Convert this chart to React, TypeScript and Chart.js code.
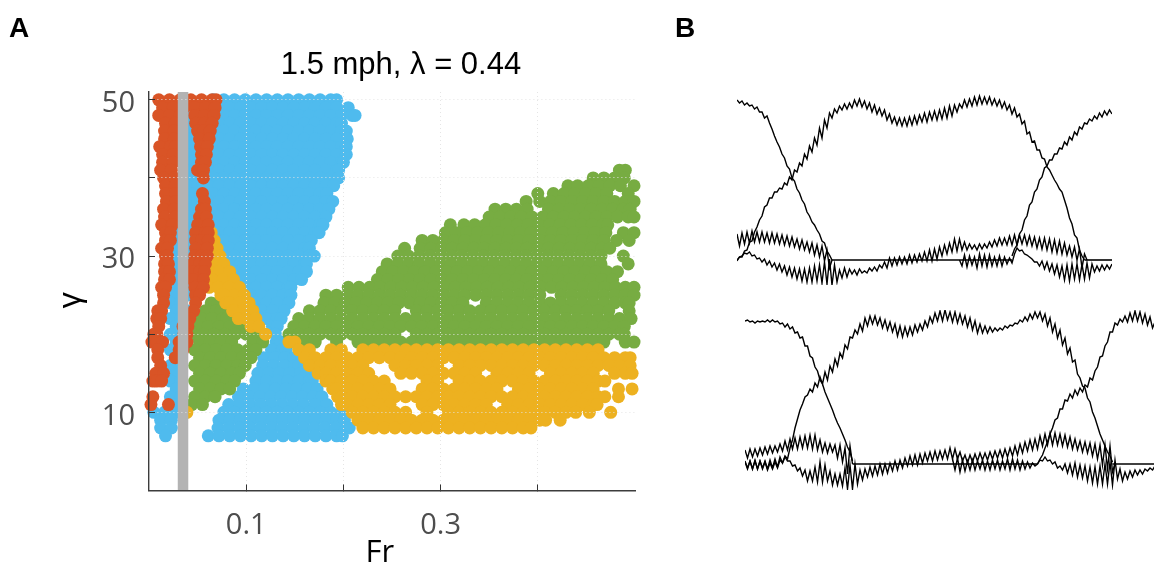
import React, { useEffect, useRef } from "react";
import { Chart, registerables } from "chart.js";

Chart.register(...registerables);

type Row = [number, number[]];

const panelLetters = ["A", "B"];
const chartTitle = "1.5 mph, λ = 0.44";
const xAxisTitle = "Fr";
const yAxisTitle = "γ";
const xTickLabels = ["0.1", "0.3"];
const yTickLabels = ["10", "30", "50"];
const stanceBarFr = [0.035, 0.035];
const stanceBarGamma = [0, 51];

// each row: gamma, then Fr x 1000 of every simulated point on that row
const orangeRows: Row[] = [
  [50, [10, 21, 32, 43, 54, 65, 69]],
  [49, [14, 25, 36, 47, 58, 68]],
  [48, [10, 21, 32, 47, 57, 67]],
  [47, [17, 27, 48, 57, 65]],
  [46, [16, 26, 50, 56, 63]],
  [45, [16, 26, 52, 62]],
  [44, [11, 22, 27, 53, 60]],
  [43, [14, 25, 54, 59]],
  [42, [14, 25, 54, 58]],
  [41, [12, 23, 50, 56]],
  [40, [15, 26, 56]],
  [39, [17, 27]],
  [38, [17, 27, 55]],
  [37, [18, 28, 57]],
  [36, [15, 26, 54, 58]],
  [35, [16, 27, 52, 59]],
  [34, [13, 24, 50, 61]],
  [33, [17, 22, 48, 58, 61]],
  [32, [17, 22, 48, 54, 61]],
  [31, [13, 19, 48, 60]],
  [30, [17, 19, 47, 54, 60]],
  [29, [16, 20, 45, 52, 58]],
  [28, [16, 21, 45, 52, 57]],
  [27, [16, 21, 45, 56]],
  [26, [13, 17, 47, 56]],
  [25, [15, 48, 52]],
  [24, [15, 48]],
  [23, [9, 13, 46]],
  [22, [8, 12, 42]],
  [21, [10, 35, 40]],
  [20, [5, 8, 36, 39]],
  [19, [3, 8, 14, 31, 39]],
  [18, [9, 31, 35]],
  [17, [9, 27]],
  [16, [12]],
  [15, [7, 15]],
  [14, [4, 8, 13]],
  [12, [4]],
  [11, [2, 20]],
];

const blueRows: Row[] = [
  [50, [66, 77, 88, 99, 110, 121, 132, 143, 154, 165, 176, 187, 193]],
  [49, [61, 72, 83, 94, 105, 116, 127, 138, 149, 160, 171, 182, 193, 205]],
  [48, [44, 55, 66, 77, 88, 99, 110, 121, 132, 143, 154, 165, 176, 187, 198, 209, 212]],
  [47, [39, 50, 61, 72, 83, 94, 105, 116, 127, 138, 149, 160, 171, 182, 193, 198]],
  [46, [44, 55, 66, 77, 88, 99, 110, 121, 132, 143, 154, 165, 176, 187, 198, 203]],
  [45, [39, 50, 61, 72, 83, 94, 105, 116, 127, 138, 149, 160, 171, 182, 193, 204]],
  [44, [44, 55, 66, 77, 88, 99, 110, 121, 132, 143, 154, 165, 176, 187, 198, 203]],
  [43, [39, 50, 61, 72, 83, 94, 105, 116, 127, 138, 149, 160, 171, 182, 193, 203]],
  [42, [44, 55, 66, 77, 88, 99, 110, 121, 132, 143, 154, 165, 176, 187, 198, 200]],
  [41, [39, 50, 61, 72, 83, 94, 105, 116, 127, 138, 149, 160, 171, 182, 193, 195]],
  [40, [33, 44, 55, 66, 77, 88, 99, 110, 121, 132, 143, 154, 165, 176, 187, 195]],
  [39, [28, 39, 50, 61, 72, 83, 94, 105, 116, 127, 138, 149, 160, 171, 182, 190]],
  [38, [33, 44, 55, 66, 77, 88, 99, 110, 121, 132, 143, 154, 165, 176, 183]],
  [37, [28, 39, 50, 61, 72, 83, 94, 105, 116, 127, 138, 149, 160, 171, 182, 189]],
  [36, [33, 44, 55, 66, 77, 88, 99, 110, 121, 132, 143, 154, 165, 176, 185]],
  [35, [28, 39, 50, 61, 72, 83, 94, 105, 116, 127, 138, 149, 160, 171, 182]],
  [34, [33, 44, 55, 66, 77, 88, 99, 110, 121, 132, 143, 154, 165, 176, 179]],
  [33, [28, 39, 50, 61, 72, 83, 94, 105, 116, 127, 138, 149, 160, 171, 175]],
  [32, [33, 44, 55, 66, 77, 88, 99, 110, 121, 132, 143, 154, 165, 167]],
  [31, [28, 39, 50, 61, 72, 83, 94, 105, 116, 127, 138, 149, 160, 165]],
  [30, [22, 33, 44, 55, 66, 77, 88, 99, 110, 121, 132, 143, 154, 165, 170]],
  [29, [28, 39, 50, 72, 83, 94, 105, 116, 127, 138, 149, 160, 162]],
  [28, [22, 33, 44, 88, 99, 110, 121, 132, 143, 154, 162]],
  [27, [28, 39, 50, 94, 105, 116, 127, 138, 149, 157]],
  [26, [22, 33, 44, 99, 110, 121, 132, 143, 146]],
  [25, [28, 39, 105, 116, 127, 138, 146]],
  [24, [22, 33, 110, 121, 132, 144]],
  [23, [28, 39, 116, 127, 139]],
  [22, [22, 33, 121, 132, 136]],
  [21, [28, 39, 127, 132]],
  [20, [22, 33, 130]],
  [19, [28, 39, 131, 136]],
  [18, [22, 33, 126, 137, 141]],
  [17, [28, 118, 129, 140, 149]],
  [16, [22, 33, 117, 128, 139, 150, 154]],
  [15, [28, 112, 123, 134, 145, 156, 162]],
  [14, [22, 33, 110, 121, 132, 143, 154, 165, 168]],
  [13, [28, 97, 108, 119, 130, 141, 152, 163, 173]],
  [12, [22, 33, 92, 103, 114, 125, 136, 147, 158, 169, 178]],
  [11, [28, 82, 93, 104, 115, 126, 137, 148, 159, 171, 183]],
  [10, [5, 16, 27, 38, 77, 88, 99, 110, 121, 132, 143, 154, 165, 176, 187, 198]],
  [9, [12, 23, 72, 83, 94, 105, 116, 127, 138, 149, 160, 171, 182, 193, 201]],
  [8, [12, 23, 71, 82, 93, 104, 115, 126, 137, 148, 159, 170, 181, 192, 203, 206]],
  [7, [17, 61, 72, 83, 94, 105, 116, 127, 138, 149, 160, 171, 182, 193, 199]],
];

const greenRows: Row[] = [
  [41, [484, 490]],
  [40, [457, 468, 479, 489]],
  [39, [431, 441, 452, 463, 474, 485, 499]],
  [38, [400, 416, 427, 438, 449, 460, 471, 493]],
  [37, [388, 402, 413, 424, 435, 446, 457, 468, 479, 490, 499]],
  [36, [356, 367, 378, 389, 411, 422, 433, 444, 455, 466, 477, 488, 495]],
  [35, [350, 361, 372, 383, 394, 405, 416, 427, 438, 449, 460, 471, 482, 493, 499]],
  [34, [310, 324, 335, 346, 357, 368, 379, 390, 401, 412, 423, 434, 445, 456, 467, 472]],
  [33, [305, 316, 327, 338, 349, 360, 371, 382, 393, 404, 415, 426, 437, 448, 459, 470, 488, 499]],
  [32, [281, 292, 303, 314, 325, 336, 347, 358, 369, 380, 391, 402, 413, 424, 435, 446, 457, 468, 481, 494]],
  [31, [263, 279, 290, 301, 312, 323, 334, 345, 356, 367, 378, 389, 400, 411, 422, 433, 444, 455, 466, 474]],
  [30, [256, 267, 278, 289, 300, 311, 322, 333, 344, 355, 366, 377, 388, 399, 410, 421, 432, 443, 454, 465, 488]],
  [29, [245, 256, 267, 278, 289, 300, 311, 322, 333, 344, 355, 366, 377, 388, 399, 410, 421, 432, 443, 454, 465, 493]],
  [28, [240, 251, 262, 273, 284, 295, 306, 317, 328, 339, 350, 361, 372, 383, 394, 405, 416, 427, 438, 449, 460, 471, 482]],
  [27, [235, 246, 257, 268, 279, 290, 301, 312, 323, 334, 345, 356, 367, 378, 389, 400, 411, 422, 433, 444, 455, 466, 477]],
  [26, [205, 216, 227, 238, 249, 260, 271, 282, 293, 304, 315, 326, 337, 348, 359, 370, 381, 392, 403, 414, 425, 436, 447, 458, 469, 480, 490, 499]],
  [25, [182, 193, 204, 215, 226, 237, 248, 259, 270, 281, 292, 303, 314, 325, 336, 347, 358, 369, 380, 391, 402, 424, 435, 446, 457, 468, 479, 490, 499]],
  [24, [180, 191, 202, 213, 224, 235, 246, 257, 268, 279, 290, 301, 312, 323, 347, 358, 369, 380, 391, 402, 413, 424, 435, 446, 457, 468, 479, 490, 494]],
  [23, [165, 176, 187, 198, 209, 220, 231, 242, 253, 275, 286, 297, 308, 319, 330, 341, 352, 363, 374, 385, 396, 407, 418, 429, 440, 451, 462, 473, 494]],
  [22, [154, 165, 176, 187, 198, 209, 220, 231, 242, 253, 264, 275, 286, 297, 308, 319, 330, 341, 352, 363, 374, 385, 396, 407, 418, 429, 440, 451, 462, 473, 484, 496]],
  [21, [149, 160, 171, 182, 193, 204, 215, 226, 237, 248, 259, 270, 281, 292, 303, 314, 325, 336, 347, 358, 369, 380, 391, 402, 413, 424, 435, 446, 457, 468, 479, 489]],
  [20, [144, 154, 165, 176, 187, 198, 209, 220, 231, 242, 253, 275, 286, 297, 308, 319, 330, 341, 352, 363, 374, 385, 396, 407, 418, 429, 440, 451, 462, 473, 484, 489]],
  [19, [149, 160, 171, 193, 215, 226, 237, 248, 259, 270, 281, 292, 303, 314, 325, 336, 347, 358, 369, 380, 391, 402, 413, 424, 435, 446, 457, 468, 490, 499]],
  [24, [64, 71]],
  [23, [58, 69, 74]],
  [22, [54, 65, 76, 80]],
  [21, [50, 61, 72, 83, 93]],
  [20, [45, 56, 67, 78, 89, 100, 111, 115]],
  [19, [52, 63, 74, 85, 107, 117]],
  [18, [47, 58, 69, 80, 91, 102, 110]],
  [17, [52, 63, 74, 85, 96, 105]],
  [16, [47, 58, 69, 80, 91, 99]],
  [15, [52, 63, 74, 85, 93]],
  [14, [47, 58, 69, 80, 88]],
  [13, [52, 63, 74, 83]],
  [12, [47, 58, 68]],
  [11, [44, 55]],
];

const yellowRows: Row[] = [
  [33, [64]],
  [32, [60, 67]],
  [31, [60, 70]],
  [30, [62, 73]],
  [29, [66, 77]],
  [28, [62, 72, 83]],
  [27, [65, 76, 87]],
  [26, [62, 71, 82, 93]],
  [25, [74, 78, 88, 98]],
  [24, [79, 83, 93, 103]],
  [23, [86, 88, 97, 107]],
  [22, [92, 100, 110]],
  [21, [105, 113]],
  [20, [120]],
  [19, [144, 150]],
  [18, [154, 165, 187, 198, 220, 231, 242, 253, 264, 275, 286, 297, 308, 319, 330, 341, 352, 363, 374, 385, 396, 407, 418, 429, 440, 451, 462]],
  [17, [160, 171, 182, 193, 204, 215, 226, 237, 248, 259, 270, 281, 292, 303, 314, 325, 336, 347, 358, 369, 380, 391, 402, 413, 424, 435, 446, 457, 468, 479, 490, 495]],
  [16, [165, 176, 187, 198, 209, 220, 253, 264, 275, 286, 297, 319, 330, 341, 352, 363, 374, 385, 396, 407, 418, 429, 440, 451, 462, 473, 484, 495]],
  [15, [174, 182, 193, 204, 215, 226, 259, 270, 281, 292, 303, 314, 325, 336, 358, 369, 380, 391, 413, 424, 435, 446, 457, 479, 490, 497]],
  [14, [182, 187, 198, 209, 220, 231, 242, 286, 297, 319, 330, 341, 352, 363, 374, 385, 396, 407, 418, 429, 440, 451, 462, 469]],
  [13, [189, 193, 204, 215, 226, 237, 248, 281, 292, 303, 314, 325, 336, 347, 358, 380, 391, 402, 413, 424, 435, 446, 457, 483, 497]],
  [12, [194, 198, 209, 220, 231, 242, 253, 264, 275, 286, 297, 308, 319, 330, 341, 352, 363, 374, 385, 396, 407, 418, 429, 440, 451, 462, 469, 483]],
  [11, [198, 204, 215, 226, 237, 248, 281, 292, 303, 314, 325, 336, 347, 369, 380, 391, 402, 413, 424, 435, 446, 457, 461]],
  [10, [39, 209, 220, 231, 242, 253, 264, 286, 308, 319, 330, 341, 352, 363, 374, 385, 396, 407, 418, 429, 439, 453, 475]],
  [9, [215, 226, 237, 248, 259, 270, 281, 292, 303, 314, 325, 336, 347, 358, 369, 380, 391, 402, 408, 423]],
  [8, [220, 231, 242, 253, 264, 275, 286, 297, 308, 319, 330, 341, 352, 363, 374, 385, 393]],
];

// Panel B, upper trial: force traces sampled along the stride
const upperFall = [160, 157, 159, 155, 157, 154, 155, 151, 153, 148, 148, 142, 144, 137, 131, 124, 118, 113, 106, 102, 94, 91, 82, 79, 71, 67, 60, 56, 48, 44, 38, 35, 30, 26, 19, 17, 9, 5, 0];
const upperRise = [4, 11, 15, 26, 30, 40, 44, 55, 58, 68, 71, 80, 83, 92, 94, 100, 100, 106, 106, 112, 111, 118, 115, 123, 120, 128, 125, 133, 131, 137, 136, 141, 139, 144, 141, 147, 143, 149, 145, 150, 146];
const upperRiseStart = 110;
const upperArch = [-1, 3, 3, 9, 10, 18, 19, 28, 33, 40, 44, 53, 55, 62, 62, 68, 68, 72, 71, 77, 75, 83, 80, 90, 88, 97, 94, 106, 101, 114, 108, 122, 115, 132, 122, 140, 132, 147, 142, 151, 147, 154, 150, 156, 151, 157, 152, 160, 154, 161, 153, 159, 151, 157, 148, 155, 146, 152, 144, 150, 140, 146, 137, 143, 135, 142, 134, 142, 134, 143, 135, 144, 136, 145, 138, 147, 138, 148, 140, 149, 140, 150, 141, 152, 142, 154, 144, 155, 148, 156, 152, 160, 153, 161, 154, 163, 155, 164, 156, 163, 156, 163, 155, 161, 154, 160, 152, 158, 150, 155, 146, 152, 143, 146, 136, 139, 126, 128, 118, 119, 110, 110, 102, 101, 93, 90, 85, 80, 76, 71, 68, 60, 52, 42, 36, 25, 22, 10, 4, 0];
const upperBand = [26, 14, 27, 16, 28, 17, 29, 18, 28, 18, 28, 18, 27, 17, 27, 17, 26, 16, 25, 15, 24, 14, 23, 13, 21, 11, 20, 10, 18, 8, 17, 5, 15, 3, 14, -1, 10, -8, 0];
const upperNoise = [0, -6, 5, -7, 4, -5, 3, -8, 6, -6, 5, -7, 5, -6, 3, -6, 4, -6, 3, -4, 2, -3, 6, 12, 9, 10, 6, 5, 3, 1, -2, -2, -6, -1, -9, -2, -11, -4, -14, -5, -17, -6, -20, -5, -21, -4, -19, -4, -20, -4, -19, -3, -18, -4, -12, -6, -11, -5, -10, -5, -9, -4];
const upperNoiseStart = 89;
const upperLow = [0, 3, 4, 7, 6, 8, 4, 5, 1, 2, -2, 1, -5, -1, -7, -3, -10, -4, -12, -6, -15, -7, -17, -8, -19, -9, -21, -9, -22, -8, -22, -6, -21, -5, -23, -2, -24, 1, -25, -5, -22, -10, -18, -8, -17, -9, -14, -10, -15, -9, -13, -11, -13, -8, -11, -7, -11, -5, -8, -2, -8, 2, -6, 2, -5, 3, -4, 3, -4, 5, -3, 5, -2, 6, -1, 8, -1, 10, -1, 11, 1, 13, 4, 15, 6, 17, 8, 21, 9, 21, 10, 18, 10, 16, 11, 15, 10, 16, 11, 16, 12, 18, 13, 20, 14, 22, 15, 22, 15, 24, 15, 25, 15, 25, 16, 25, 15, 24, 14, 23, 12, 22, 11, 22, 10, 21, 8, 20, 7, 19, 6, 17, 5, 14, 3, 13, 0, 11, -8, 6, 0];
const upperFlat = [[38, 110], [139, 150]];

// Panel B, lower trial
const lowerFall = [143, 144, 142, 143, 141, 143, 142, 143, 142, 144, 142, 144, 142, 143, 140, 141, 137, 140, 135, 137, 131, 132, 126, 127, 118, 118, 108, 106, 97, 93, 84, 80, 72, 66, 60, 54, 47, 41, 36, 30, 24, 17, 12, 3];
const lowerRise = [0, 5, 9, 16, 22, 30, 36, 44, 46, 55, 55, 64, 63, 70, 66, 74, 69, 76, 72, 79, 77, 86, 84, 93, 97, 107, 108, 118, 122, 132, 132, 141, 139, 145, 142, 148, 142, 151, 143, 153, 143, 152, 141, 150, 139, 147, 136, 142];
const lowerRiseStart = 117;
const lowerArch = [2, -5, 3, -5, 3, -5, 3, -4, 3, -5, 4, -4, 5, -3, 7, 1, 8, 5, 16, 24, 36, 45, 54, 60, 67, 69, 75, 72, 81, 77, 87, 80, 92, 84, 98, 92, 105, 98, 111, 106, 119, 115, 127, 126, 134, 130, 140, 133, 146, 138, 148, 140, 148, 139, 146, 136, 144, 134, 142, 132, 140, 128, 138, 127, 137, 128, 137, 129, 139, 132, 140, 134, 143, 137, 147, 141, 151, 143, 153, 143, 154, 144, 152, 142, 152, 141, 150, 140, 148, 137, 146, 134, 143, 131, 140, 131, 138, 131, 137, 132, 136, 133, 136, 134, 138, 136, 139, 138, 141, 140, 144, 142, 147, 143, 150, 145, 152, 146, 152, 143, 150, 138, 146, 132, 140, 126, 134, 119, 126, 110, 116, 102, 104, 90, 86, 78, 76, 66, 62, 52, 46, 38, 30, 24, 18, 12, 8, 2];
const lowerBand = [14, 6, 15, 7, 15, 8, 16, 9, 17, 10, 18, 11, 18, 12, 20, 13, 23, 14, 25, 15, 26, 15, 27, 16, 28, 16, 29, 15, 29, 14, 24, 12, 21, 11, 20, 12, 19, 6, 19, 2, 16, -10, 18, 0];
const lowerNoise = [5, -6, 6, -8, 4, -7, 3, -6, 4, -6, 3, -5, 4, -6, 3, -6, 4, -5, 4, -6, 3, -5, 5, -6, 5, -5, 4, -6, 3, -5, 2, -4, 1, -2, 0, 4, 3, 7, 3, 4, 0, 2, -4, -2, -6, 0, -9, 0, -11, 1, -13, -1, -14, -2, -17, -3, -19, -3, -20, -2, -20, 0, -20, 2, -21, 4, -15, -5, -17, -8, -15, -7, -13, -6, -11, -6, -10, -5, -7, -4, -6, -2];
const lowerNoiseStart = 83;
const lowerLow = [3, -4, 3, -5, 4, -5, 3, -5, 2, -6, 1, -5, 2, -4, 4, 1, 7, 3, 3, -2, -1, -7, -4, -12, -6, -17, -7, -17, -3, -18, 2, -18, -1, -17, -7, -21, -10, -21, -10, -22, -4, -25, -1, -25, 0, -20, -6, -16, -5, -13, -3, -12, -2, -11, 0, -10, 0, -9, 1, -7, 3, -6, 4, -4, 6, -2, 8, -1, 9, -1, 10, 1, 11, 3, 12, 3, 13, 4, 13, 5, 14, 5, 16, 5, 15, 5, 12, 3, 9, 1, 9, 2, 10, 3, 11, 4, 11, 4, 12, 5, 13, 6, 14, 6, 15, 7, 16, 8, 18, 9, 20, 11, 22, 13, 24, 14, 25, 15, 28, 18, 30, 19, 31, 19, 31, 19, 30, 18, 29, 17, 27, 15, 25, 14, 23, 12, 22, 11, 21, 8, 20, 5, 19, -1, 19, -5, 18, -8, 0];
const lowerFlat = [[43, 117], [147, 164]];

const flattenRows = (rows: Row[]) =>
  rows.flatMap(([gamma, frs]) => frs.map((fr) => ({ x: fr / 1000, y: gamma })));

const toTrace = (values: number[], start = 0) =>
  values.map((y, i) => ({ x: start + i, y }));

const flatSegments = (segments: number[][]) =>
  segments.map(([a, b]) => [{ x: a, y: 0 }, { x: b, y: 0 }]);

const pointSet = (rows: Row[], color: string) => ({
  data: flattenRows(rows),
  backgroundColor: color,
  borderWidth: 0,
  pointRadius: 6.5,
  pointHoverRadius: 6.5,
  showLine: false,
  clip: false as const,
});

const tickFont = { family: "'Open Sans'", size: 29 };
const yTickFont = { family: "'Open Sans'", size: 29, lineHeight: 0.28 };
const titleFont = { family: "'Liberation Sans'", size: 31, weight: "normal" };
const axisGrey = "#4d4d4d";
const spine = { color: "#3c3c3c", width: 1.4, dash: [1, 3], z: 2 };
const gridLook = {
  z: 1,
  color: "rgba(228,228,228,0.95)",
  lineWidth: 1,
  tickLength: -6,
  tickColor: "#333",
  tickWidth: 1,
};

function scatterConfig(): any {
  return {
    type: "scatter",
    data: {
      datasets: [
        {
          data: stanceBarFr.map((x, i) => ({ x, y: stanceBarGamma[i] })),
          showLine: true,
          borderColor: "#b3b3b3",
          borderWidth: 10.5,
          borderCapStyle: "butt",
          pointRadius: 0,
        },
        pointSet(orangeRows, "#d95426"),
        pointSet(yellowRows, "#edb120"),
        pointSet(greenRows, "#77ac42"),
        pointSet(blueRows, "#4fbbee"),
      ],
    },
    options: {
      animation: false,
      responsive: false,
      layout: { padding: 0 },
      plugins: {
        legend: { display: false },
        tooltip: { enabled: false },
        title: {
          display: true,
          text: chartTitle,
          color: "#000",
          font: titleFont,
          padding: { top: 47, bottom: 7.8 },
        },
      },
      scales: {
        x: {
          type: "linear",
          min: 0,
          max: 0.5,
          afterFit: (s: any) => { s.height = 75.5; },
          afterBuildTicks: (s: any) => { s.ticks = s.ticks.filter((t: any) => t.value > 0.01 && t.value < 0.49); },
          ticks: {
            stepSize: 0.1,
            autoSkip: false,
            maxRotation: 0,
            color: axisGrey,
            font: tickFont,
            padding: 24,
            callback: (v: number) => (xTickLabels.includes(v.toFixed(1)) ? v.toFixed(1) : ""),
          },
          grid: gridLook,
          border: spine,
          title: {
            display: true,
            text: xAxisTitle + "   ",
            color: "#000",
            font: { family: "'Open Sans'", size: 31 },
            padding: { top: 0, bottom: -6 },
          },
        },
        y: {
          type: "linear",
          min: 0,
          max: 51,
          afterFit: (s: any) => { s.width = 149; },
          afterBuildTicks: (s: any) => { s.ticks = s.ticks.filter((t: any) => t.value > 0 && t.value <= 50); },
          ticks: {
            stepSize: 10,
            includeBounds: false,
            autoSkip: false,
            color: axisGrey,
            font: yTickFont,
            padding: 20,
            callback: (v: number) => (yTickLabels.includes(String(v)) ? ["", String(v)] : ""),
          },
          grid: gridLook,
          border: spine,
          title: {
            display: true,
            text: yAxisTitle + "  ",
            color: "#000",
            font: { family: "'Liberation Sans'", size: 32 },
            padding: { top: 52, bottom: 0 },
          },
        },
        rightMargin: {
          type: "linear",
          axis: "y",
          position: "right",
          display: true,
          afterFit: (s: any) => { s.width = 167; },
          ticks: { display: false },
          grid: { display: false, drawTicks: false },
          border: { display: false },
        },
      },
    },
  };
}

function traceConfig(traces: any[][], flats: any[][], xMax: number, yMin: number, yMax: number): any {
  const line = (data: any[], width: number) => ({
    data,
    showLine: true,
    borderColor: "#000",
    borderWidth: width,
    pointRadius: 0,
    clip: false,
  });
  return {
    type: "scatter",
    data: {
      datasets: [
        ...traces.map((t) => line(t, 1.4)),
        ...flats.map((f) => line(f, 1.6)),
      ],
    },
    options: {
      animation: false,
      responsive: false,
      layout: { padding: 0 },
      plugins: { legend: { display: false }, tooltip: { enabled: false } },
      scales: {
        x: { type: "linear", display: false, min: 0, max: xMax },
        y: { type: "linear", display: false, min: yMin, max: yMax },
      },
    },
  };
}

const abs = (left: number, top: number): React.CSSProperties => ({ position: "absolute", left, top, display: "block" });

export default function App() {
  const mainRef = useRef<HTMLCanvasElement>(null);
  const upperRef = useRef<HTMLCanvasElement>(null);
  const lowerRef = useRef<HTMLCanvasElement>(null);

  useEffect(() => {
    const charts = [
      new Chart(mainRef.current!, scatterConfig()),
      new Chart(
        upperRef.current!,
        traceConfig(
          [toTrace(upperFall), toTrace(upperRise, upperRiseStart), toTrace(upperArch), toTrace(upperBand), toTrace(upperNoise, upperNoiseStart), toTrace(upperLow)],
          flatSegments(upperFlat),
          150, -25, 170,
        ),
      ),
      new Chart(
        lowerRef.current!,
        traceConfig(
          [toTrace(lowerFall), toTrace(lowerRise, lowerRiseStart), toTrace(lowerArch), toTrace(lowerBand), toTrace(lowerNoise, lowerNoiseStart), toTrace(lowerLow)],
          flatSegments(lowerFlat),
          163.6, -26, 154,
        ),
      ),
    ];
    return () => charts.forEach((c) => c.destroy());
  }, []);

  const letter: React.CSSProperties = { fontFamily: "'Liberation Sans'", fontWeight: 700, fontSize: 28, lineHeight: "28px", color: "#000" };

  return (
    <div style={{ position: "absolute", left: 0, top: 0, width: 1154, height: 566, overflow: "hidden", background: "#fff" }}>
      <canvas ref={mainRef} width={802} height={566} style={abs(0, 0)} />
      <canvas ref={upperRef} width={375} height={195} style={abs(737, 90)} />
      <canvas ref={lowerRef} width={409} height={180} style={abs(745, 310)} />
      <div style={{ ...abs(9, 14), ...letter }}>{panelLetters[0]}</div>
      <div style={{ ...abs(675, 14), ...letter }}>{panelLetters[1]}</div>
    </div>
  );
}
